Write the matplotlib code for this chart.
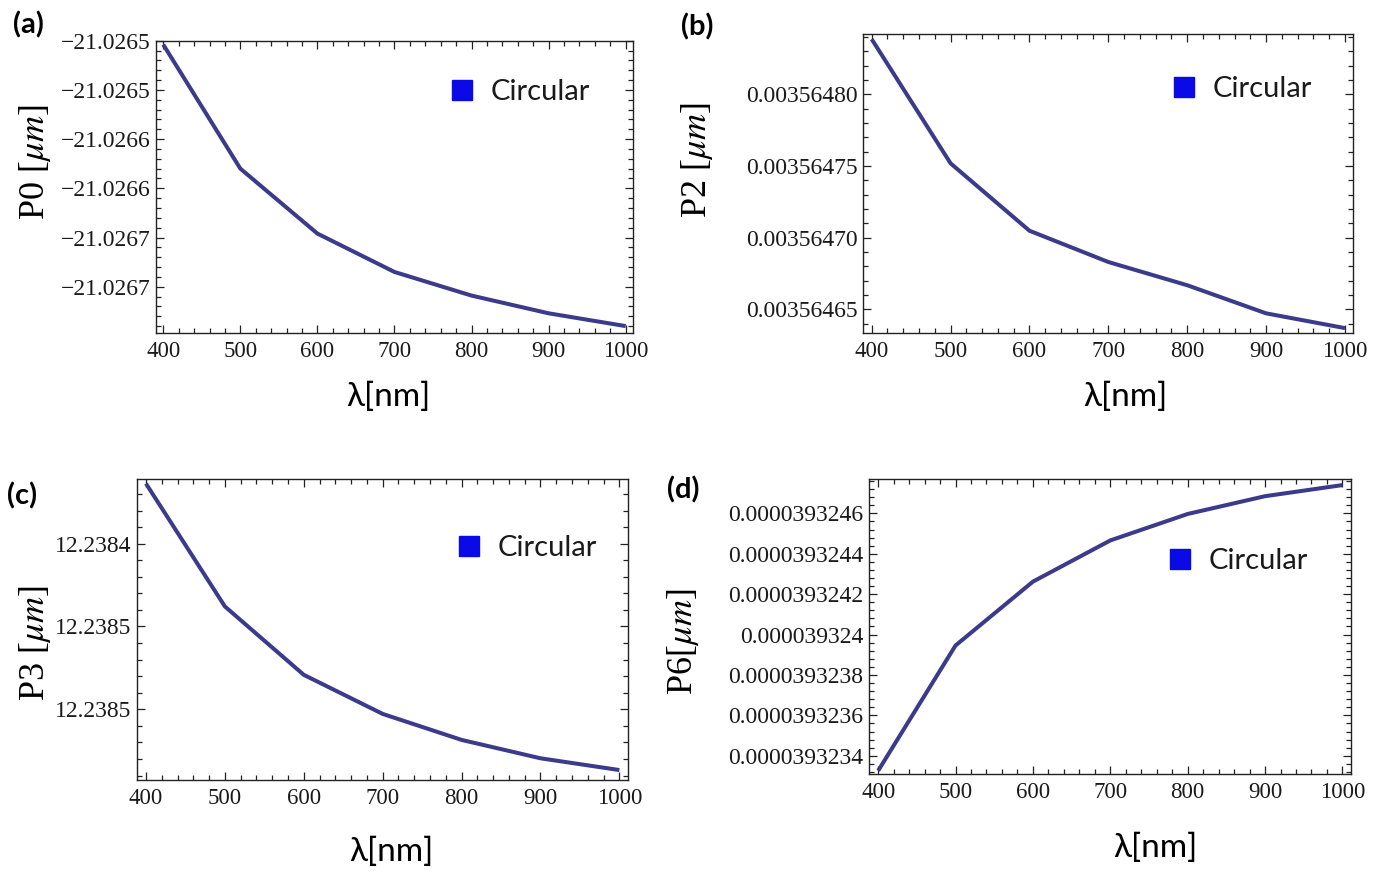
import matplotlib
matplotlib.use("Agg")
import numpy as np
import matplotlib.pyplot as plt
from matplotlib.ticker import FixedLocator, FixedFormatter, MultipleLocator
from matplotlib.lines import Line2D

# ---------------- data ----------------
wavelength = [400, 500, 600, 700, 800, 900, 1000]

p0 = [-21.026504, -21.026630, -21.026696, -21.026735, -21.026759, -21.026777, -21.026790]
p2 = [0.0035648384, 0.0035647518, 0.0035647048, 0.0035646830, 0.0035646668, 0.0035646472, 0.0035646369]
p3 = [-12.2383637, -12.2384379, -12.2384792, -12.2385028, -12.2385185, -12.2385296, -12.2385367]
p6 = [0.000039323326, 0.000039323946, 0.000039324262, 0.000039324466, 0.000039324597, 0.000039324685, 0.000039324740]

x_ticks = [400, 500, 600, 700, 800, 900, 1000]
x_ticklabels = ["400", "500", "600", "700", "800", "900", "1000"]

p0_ticks = [-21.02650, -21.02655, -21.02660, -21.02665, -21.02670, -21.02675]
p0_ticklabels = ["\u221221.0265", "\u221221.0265", "\u221221.0266", "\u221221.0266", "\u221221.0267", "\u221221.0267"]

p2_ticks = [0.00356480, 0.00356475, 0.00356470, 0.00356465]
p2_ticklabels = ["0.00356480", "0.00356475", "0.00356470", "0.00356465"]

p3_ticks = [-12.23840, -12.23845, -12.23850]
p3_ticklabels = ["12.2384", "12.2385", "12.2385"]

p6_ticks = [0.0000393234, 0.0000393236, 0.0000393238, 0.0000393240, 0.0000393242, 0.0000393244, 0.0000393246]
p6_ticklabels = ["0.0000393234", "0.0000393236", "0.0000393238", "0.000039324",
                 "0.0000393242", "0.0000393244", "0.0000393246"]

legend_label = "Circular"

# ---------------- style ----------------
line_color = "#3c3b8b"
legend_color = "#0a0ae6"
serif = ["Liberation Serif", "DejaVu Serif"]
sans = ["Lato", "DejaVu Sans"]
plt.rcParams["mathtext.fontset"] = "stix"

fig = plt.figure(figsize=(13.74, 8.71), dpi=100)

panels = [
    dict(rect=[0.1135, 0.6177, 0.3469, 0.3356], y=p0, yt=p0_ticks, ytl=p0_ticklabels,
         ylim=(-21.026797, -21.0265), xlim=(390.5, 1009),
         ylabel=r"P0 [$\mu m$]", ylab_xy=(-0.254, 0.585), xlab_xy=(0.487, -0.219),
         leg_xy=(0.617, 0.8245), tag="(a)", tag_xy=(28, 25)),
    dict(rect=[0.6281, 0.6177, 0.3564, 0.3433], y=p2, yt=p2_ticks, ytl=p2_ticklabels,
         ylim=(0.0035646335, 0.0035648420), xlim=(389, 1009.8),
         ylabel=r"P2 [$\mu m$]", ylab_xy=(-0.339, 0.579), xlab_xy=(0.535, -0.214),
         leg_xy=(0.631, 0.816), tag="(b)", tag_xy=(697, 27)),
    dict(rect=[0.0997, 0.1045, 0.3574, 0.3456], y=p3, yt=p3_ticks, ytl=p3_ticklabels,
         ylim=(-12.2385427, -12.2383609), xlim=(388.6, 1011),
         ylabel=r"P3 [$\mu m$]", ylab_xy=(-0.208, 0.455), xlab_xy=(0.519, -0.239),
         leg_xy=(0.652, 0.771), tag="(c)", tag_xy=(22, 496)),
    dict(rect=[0.6322, 0.1114, 0.3510, 0.3384], y=p6, yt=p6_ticks, ytl=p6_ticklabels,
         ylim=(0.000039323310, 0.000039324769), xlim=(387.7, 1011),
         ylabel=r"P6[$\mu m$]", ylab_xy=(-0.385, 0.448), xlab_xy=(0.594, -0.251),
         leg_xy=(0.621, 0.723), tag="(d)", tag_xy=(683, 490)),
]

for p in panels:
    ax = fig.add_axes(p["rect"])
    ax.plot(wavelength, p["y"], color=line_color, lw=2.9, solid_capstyle="butt")
    ax.set_xlim(*p["xlim"])
    ax.set_ylim(*p["ylim"])

    ax.xaxis.set_major_locator(FixedLocator(x_ticks))
    ax.xaxis.set_major_formatter(FixedFormatter(x_ticklabels))
    ax.xaxis.set_minor_locator(MultipleLocator(20))

    yt = np.array(p["yt"])
    step = abs(yt[1] - yt[0]) / 5.0
    lo, hi = p["ylim"]
    k0 = int(np.floor((lo - yt[0]) / step)) - 1
    k1 = int(np.ceil((hi - yt[0]) / step)) + 1
    minors = [yt[0] + k * step for k in range(k0, k1 + 1)]
    ax.yaxis.set_major_locator(FixedLocator(p["yt"]))
    ax.yaxis.set_major_formatter(FixedFormatter(p["ytl"]))
    ax.yaxis.set_minor_locator(FixedLocator(minors))

    ax.tick_params(which="both", direction="in", top=True, right=True,
                   color="#222222", width=0.9)
    ax.tick_params(which="major", length=6)
    ax.tick_params(which="minor", length=3.5)
    ax.tick_params(axis="x", pad=6)
    ax.tick_params(axis="y", pad=4)
    for lab in ax.get_xticklabels():
        lab.set_family(serif)
        lab.set_fontsize(16.5)
        lab.set_color("#1a1a1a")
    for lab in ax.get_yticklabels():
        lab.set_family(serif)
        lab.set_fontsize(17)
        lab.set_color("#1a1a1a")
    for s in ax.spines.values():
        s.set_linewidth(1.0)
        s.set_color("#222222")

    ax.set_ylabel(p["ylabel"], family=serif, fontsize=26, va="center")
    ax.yaxis.set_label_coords(*p["ylab_xy"])
    ax.set_xlabel("\u03bb[nm]", family=sans, fontsize=24, va="center")
    ax.xaxis.set_label_coords(*p["xlab_xy"])

    handle = Line2D([], [], marker="s", ls="", color=legend_color, markersize=15)
    leg = ax.legend([handle], [legend_label], loc="center left",
                    bbox_to_anchor=p["leg_xy"], frameon=False,
                    prop=dict(family=sans, size=21), handlelength=0.8,
                    handletextpad=0.6, borderpad=0, borderaxespad=0)
    for t in leg.get_texts():
        t.set_color("#1a1a1a")

    fig.text(p["tag_xy"][0] / 1374, 1 - p["tag_xy"][1] / 871, p["tag"],
             family=sans, fontsize=21, fontweight="bold", ha="center", va="center")

fig.savefig("out.png", dpi=100)
